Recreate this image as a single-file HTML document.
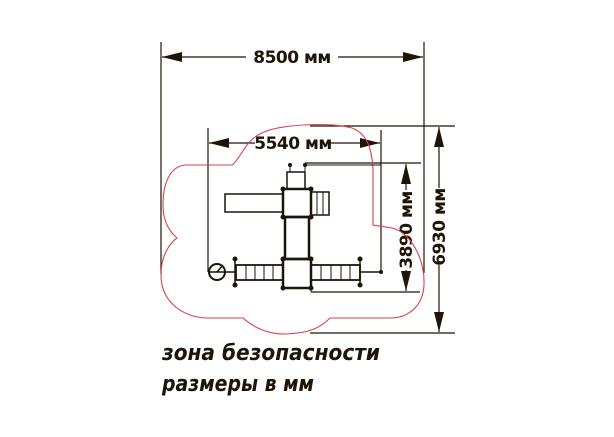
<!DOCTYPE html>
<html><head><meta charset="utf-8"><style>
html,body{margin:0;padding:0;background:#fff;width:614px;height:437px;overflow:hidden}
svg{display:block}
text{font-family:"DejaVu Sans","Liberation Sans",sans-serif;fill:#1e1408}
</style></head><body>
<svg width="614" height="437" viewBox="0 0 614 437" xmlns="http://www.w3.org/2000/svg">
<g stroke="#1e1408" stroke-width="1.2" fill="none">
 <line x1="161" y1="42" x2="161" y2="274"/>
 <line x1="424" y1="42" x2="424" y2="273"/>
 <line x1="162" y1="57" x2="246" y2="57"/>
 <line x1="338" y1="57" x2="423" y2="57"/>
 <line x1="208" y1="128" x2="208" y2="272"/>
 <line x1="381" y1="130" x2="381" y2="273"/>
 <line x1="209" y1="143" x2="255" y2="143"/>
 <line x1="330" y1="143" x2="380" y2="143"/>
 <line x1="310" y1="126" x2="455" y2="126"/>
 <line x1="305" y1="163" x2="421" y2="163"/>
 <line x1="311" y1="292" x2="420" y2="292"/>
 <line x1="310" y1="333" x2="455" y2="333"/>
 <line x1="406" y1="164" x2="406" y2="190"/>
 <line x1="406" y1="270" x2="406" y2="291"/>
 <line x1="439" y1="127" x2="439" y2="188"/>
 <line x1="439" y1="265" x2="439" y2="332"/>
</g>
<g fill="#1e1408">
 <polygon points="162,57 182,52 182,62"/>
 <polygon points="423,57 403,52 403,62"/>
 <polygon points="209,143 229,138 229,148"/>
 <polygon points="380,143 360,138 360,148"/>
 <polygon points="406,164 401,184 411,184"/>
 <polygon points="406,291 401,271 411,271"/>
 <polygon points="439,127 434,147 444,147"/>
 <polygon points="439,332 434,312 444,312"/>
</g>
<text x="292" y="63" font-size="17" font-weight="bold" letter-spacing="-0.5" text-anchor="middle">8500 мм</text>
<text x="293" y="149" font-size="17" font-weight="bold" letter-spacing="-0.5" text-anchor="middle">5540 мм</text>
<text transform="translate(412,230) rotate(-90)" font-size="17" font-weight="bold" letter-spacing="-0.5" text-anchor="middle">3890 мм</text>
<text transform="translate(445,227) rotate(-90)" font-size="17" font-weight="bold" letter-spacing="-0.5" text-anchor="middle">6930 мм</text>
<path d="M187,165 L232,165 C240,160 245,140 262,133 C280,124 330,122 352,128 C368,134 372,150 373,170 L373,225 L392,228 C410,232 425,258 424,285 C423,305 410,317 392,318 L330,318 C320,328 310,333 285,334 C265,334 252,326 243,318 L205,318 C180,316 161,300 161,275 C161,255 170,243 177,238 C170,232 163,222 163,205 C163,180 172,165 187,165 Z" fill="none" stroke="#d9424a" stroke-width="1.1"/>
<g stroke="#1e1408" fill="none">
 <rect x="287" y="172" width="18" height="17" stroke-width="1.5"/>
 <line x1="290" y1="165" x2="290" y2="172"/><line x1="305" y1="165" x2="305" y2="172"/>
 <line x1="305" y1="165" x2="381" y2="165" stroke-width="1"/>
 <rect x="225" y="194" width="58" height="18" stroke-width="1.5"/>
 <rect x="283" y="189" width="28" height="28" stroke-width="2.5"/>
 <rect x="311" y="192" width="18" height="23" stroke-width="1.5"/>
 <line x1="317" y1="192" x2="317" y2="215"/><line x1="323" y1="192" x2="323" y2="215"/>
 <rect x="285" y="217" width="24" height="42" stroke-width="2.5"/>
 <rect x="283" y="259" width="28" height="29" stroke-width="2.5"/>
 <rect x="236" y="265" width="47" height="15" stroke-width="1.8"/>
 <line x1="246" y1="265" x2="246" y2="280"/><line x1="255" y1="265" x2="255" y2="280"/><line x1="264" y1="265" x2="264" y2="280"/><line x1="273" y1="265" x2="273" y2="280"/>
 <rect x="311" y="265" width="49" height="15" stroke-width="1.8"/>
 <line x1="321" y1="265" x2="321" y2="280"/><line x1="331" y1="265" x2="331" y2="280"/><line x1="341" y1="265" x2="341" y2="280"/><line x1="350" y1="265" x2="350" y2="280"/>
 <line x1="235" y1="259" x2="235" y2="285" stroke-width="1.5"/>
 <line x1="360" y1="259" x2="360" y2="285" stroke-width="1.5"/>
 <line x1="360" y1="272" x2="381" y2="272" stroke-width="1.5"/>
 <line x1="208" y1="272" x2="236" y2="272" stroke-width="1.5"/>
 <circle cx="217" cy="272" r="8" stroke-width="2"/>
 <line x1="217" y1="272" x2="223" y2="265" stroke-width="1.5"/>
 <line x1="311" y1="288" x2="311" y2="292" stroke-width="1"/>
</g>
<g fill="#1e1408">
 <circle cx="290" cy="165" r="2"/><circle cx="305" cy="165" r="2"/>
 <circle cx="283" cy="189" r="2.5"/><circle cx="311" cy="189" r="2.5"/>
 <circle cx="283" cy="217" r="2.5"/><circle cx="311" cy="217" r="2.5"/>
 <circle cx="283" cy="259" r="2.5"/><circle cx="311" cy="259" r="2.5"/>
 <circle cx="283" cy="288" r="2.5"/><circle cx="311" cy="288" r="2.5"/>
 <circle cx="235" cy="259" r="2.5"/><circle cx="235" cy="285" r="2.5"/>
 <circle cx="360" cy="259" r="2.5"/><circle cx="360" cy="285" r="2.5"/>
 <circle cx="381" cy="272" r="2"/>
</g>
<text x="162" y="360" font-size="22" font-weight="bold" font-style="italic" textLength="218" lengthAdjust="spacingAndGlyphs">зона безопасности</text>
<text x="162" y="391" font-size="22" font-weight="bold" font-style="italic" textLength="152" lengthAdjust="spacingAndGlyphs">размеры в мм</text>
</svg>
</body></html>
